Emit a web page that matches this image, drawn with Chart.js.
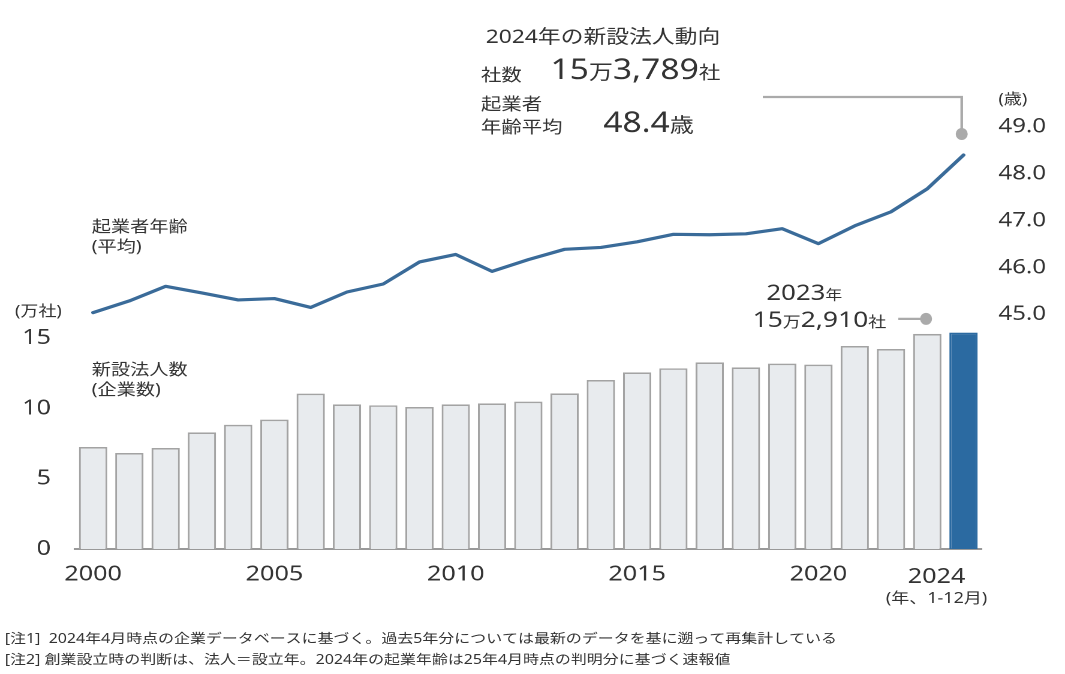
<!DOCTYPE html>
<html>
<head>
<meta charset="utf-8">
<script src="https://cdn.jsdelivr.net/npm/chart.js"></script>
<title>新設法人と起業者年齢</title>
<style>
  body { margin: 0; background: #fff; }
  #chart { display: block; width: 1065px !important; height: 674px !important; }
</style>
</head>
<body>
<canvas id="chart" width="888" height="674" style="width:1065px;height:674px"></canvas>

<script>
// data
const years = ['2000','2001','2002','2003','2004','2005','2006','2007','2008','2009','2010','2011','2012',
               '2013','2014','2015','2016','2017','2018','2019','2020','2021','2022','2023','2024'];
// 新設法人数 (万社)
const companies = [7.25, 6.82, 7.18, 8.29, 8.83, 9.19, 11.04, 10.28, 10.21, 10.09, 10.28, 10.35, 10.47,
                   11.06, 12.01, 12.55, 12.84, 13.26, 12.91, 13.17, 13.10, 14.43, 14.21, 15.29, 15.38];
// 起業者年齢 平均 (歳)
const ages = [45.04, 45.29, 45.60, 45.46, 45.31, 45.34, 45.15, 45.48, 45.65, 46.12, 46.28, 45.92, 46.17,
              46.39, 46.43, 46.55, 46.71, 46.70, 46.72, 46.83, 46.51, 46.89, 47.19, 47.68, 48.4];
const leftTicks = [0, 5, 10, 15];
const rightTicks = [45, 46, 47, 48, 49];
const shownYears = ['2000', '2005', '2010', '2015', '2020'];

const FONT = '"Noto Sans", "Noto Sans CJK JP", sans-serif';
const TEXT = '#333';
const SX = 1065 / 888;   // the canvas is drawn narrow and stretched sideways

function runs(ctx, x, y, parts) {
  let cx = x;
  parts.forEach(([t, s]) => {
    ctx.font = s + 'px ' + FONT;
    ctx.fillText(t, cx, y);
    cx += ctx.measureText(t).width;
  });
}

function dot(ctx, x, y, r) {
  ctx.beginPath();
  ctx.ellipse(x, y, r / SX, r, 0, 0, Math.PI * 2);
  ctx.fill();
}

const notes = {
  id: 'notes',
  afterDraw(chart) {
    const ctx = chart.ctx;
    const bars = chart.getDatasetMeta(1).data;
    const pts = chart.getDatasetMeta(0).data;
    ctx.save();
    ctx.fillStyle = TEXT;
    ctx.textBaseline = 'alphabetic';
    ctx.textAlign = 'left';

    // box top right
    runs(ctx, 405, 43, [['2024年の新設法人動向', 19]]);
    runs(ctx, 401, 81, [['社数', 17]]);
    runs(ctx, 459, 79, [['15', 28], ['万', 20], ['3,789', 28], ['社', 18]]);
    runs(ctx, 401, 110, [['起業者', 17]]);
    runs(ctx, 401, 133, [['年齢平均', 17]]);
    runs(ctx, 503, 132, [['48.4', 28], ['歳', 20]]);

    // series labels
    runs(ctx, 76.5, 232, [['起業者年齢', 16]]);
    runs(ctx, 76.5, 252, [['(平均)', 16]]);
    runs(ctx, 76.5, 375, [['新設法人数', 16]]);
    runs(ctx, 76.5, 395, [['(企業数)', 16]]);

    // units
    runs(ctx, 12.5, 316, [['(万社)', 15]]);
    runs(ctx, 832.5, 104, [['(歳)', 15]]);

    // 2023 callout
    runs(ctx, 639, 300, [['2023', 21.5], ['年', 14]]);
    runs(ctx, 627.5, 327, [['15', 22], ['万', 15], ['2,910', 22], ['社', 15]]);

    // last x label
    const last = bars[bars.length - 1];
    ctx.textAlign = 'center';
    runs(ctx, last.x - 22.5, 583, [['2024', 21]]);
    ctx.font = '15px ' + FONT;
    ctx.fillText('(年、1-12月)', last.x - 22.5, 603);

    // connectors
    ctx.strokeStyle = '#aaa';
    ctx.fillStyle = '#aaa';
    ctx.lineWidth = 2.2;
    const p24 = pts[pts.length - 1];
    ctx.beginPath();
    ctx.moveTo(636, 97);
    ctx.lineTo(p24.x - 1.5, 97);
    ctx.lineTo(p24.x - 1.5, p24.y - 21);
    ctx.stroke();
    dot(ctx, p24.x - 1.5, p24.y - 21, 6);

    const b23 = bars[bars.length - 2];
    ctx.beginPath();
    ctx.moveTo(749, b23.y - 15);
    ctx.lineTo(b23.x, b23.y - 15);
    ctx.stroke();
    dot(ctx, b23.x - 1, b23.y - 15, 6);

    // footnotes
    ctx.textAlign = 'left';
    ctx.fillStyle = TEXT;
    runs(ctx, 4, 643, [['[注1]  2024年4月時点の企業データベースに基づく。過去5年分については最新のデータを基に遡って再集計している', 13.3]]);
    runs(ctx, 4, 664, [['[注2] 創業設立時の判断は、法人＝設立年。2024年の起業年齢は25年4月時点の判明分に基づく速報値', 13.3]]);
    ctx.restore();
  }
};

Chart.defaults.font.family = FONT;
Chart.defaults.color = TEXT;

const barFill = companies.map((v, i) => i === companies.length - 1 ? '#2b6aa1' : '#e8ebee');
const barEdge = companies.map((v, i) => i === companies.length - 1 ? '#2b6aa1' : '#a3a3a3');

const chart = new Chart(document.getElementById('chart'), {
  data: {
    labels: years,
    datasets: [{
      type: 'line',
      label: '起業者年齢',
      data: ages,
      yAxisID: 'y1',
      borderColor: '#3a6b99',
      borderWidth: 3.2,
      pointRadius: 0,
      tension: 0,
      borderJoinStyle: 'round',
      borderCapStyle: 'round',
      order: 1
    }, {
      type: 'bar',
      label: '新設法人数',
      data: companies,
      yAxisID: 'y',
      backgroundColor: barFill,
      borderColor: barEdge,
      borderWidth: 1.6,
      barPercentage: 0.78,
      categoryPercentage: 1,
      order: 2
    }]
  },
  options: {
    responsive: false,
    animation: false,
    devicePixelRatio: 2,
    layout: { padding: { top: 80, left: 0, right: 0, bottom: 0 } },
    plugins: { legend: { display: false }, tooltip: { enabled: false } },
    scales: {
      x: {
        grid: { display: false, drawTicks: false },
        border: { display: true, color: '#999', width: 2 },
        ticks: {
          autoSkip: false, maxRotation: 0, padding: 13,
          font: { size: 21 },
          callback: (v, i) => shownYears.includes(years[i]) ? years[i] : ''
        },
        afterFit: s => { s.height = 125; }
      },
      y: {
        position: 'left',
        min: 0, max: 33.33,
        grid: { display: false, drawTicks: false },
        border: { display: false },
        ticks: { padding: 20, font: { size: 21 } },
        afterBuildTicks: s => { s.ticks = leftTicks.map(v => ({ value: v })); },
        afterFit: s => { s.width = 62.5; }
      },
      y1: {
        position: 'right',
        min: 40, max: 50,
        grid: { display: false, drawTicks: false },
        border: { display: false },
        ticks: { padding: 14, font: { size: 20 }, callback: v => v.toFixed(1) },
        afterBuildTicks: s => { s.ticks = rightTicks.map(v => ({ value: v })); },
        afterFit: s => { s.width = 69.5; }
      }
    }
  },
  plugins: [notes]
});
</script>
</body>
</html>
